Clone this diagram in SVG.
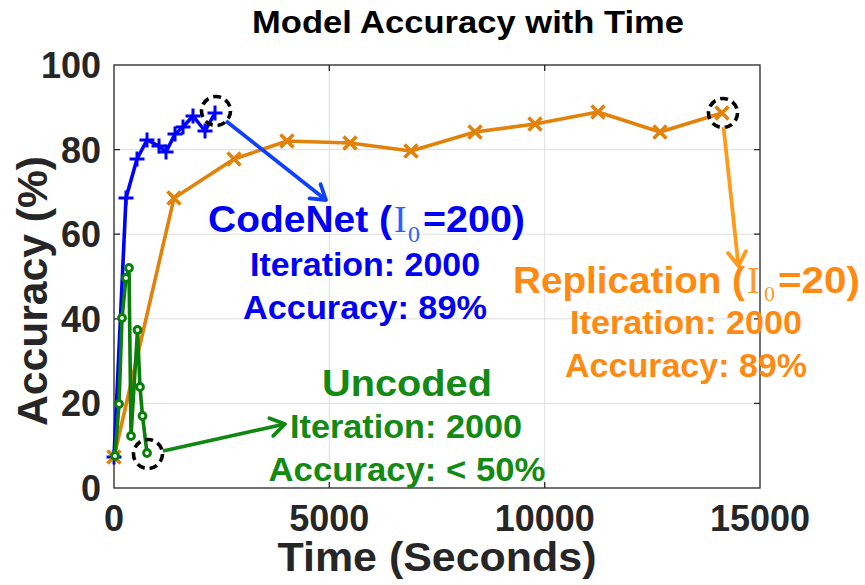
<svg xmlns="http://www.w3.org/2000/svg" xmlns:xlink="http://www.w3.org/1999/xlink" width="865" height="585" viewBox="0 0 865 585">
<style>
.grid{stroke:#dedede;stroke-width:1;fill:none}
.axis{stroke:#262626;stroke-width:1.3;fill:none}
.tick{font-family:"Liberation Sans",Arial,sans-serif;font-weight:bold;font-size:36px;fill:#262626}
.lbl{font-family:"Liberation Sans",Arial,sans-serif;font-weight:bold;fill:#262626}
.title{font-family:"Liberation Sans",Arial,sans-serif;font-weight:bold;font-size:31px;fill:#000}
.ann{font-family:"Liberation Sans",Arial,sans-serif;font-weight:bold}
.ser{font-family:"Liberation Serif","Times New Roman",serif}
.big{font-size:36px}
.mid{font-size:33px}
.blue{fill:#0000f5}
.blue2{fill:#2a62ff}
.org{fill:#ff8a12}
.org2{fill:#ff9a2a}
.grn{fill:#138a13}
.dash{fill:none;stroke:#000;stroke-width:3.6;stroke-dasharray:8 5}
.line{fill:none;stroke-width:3.6;stroke-linejoin:round}
</style>
<defs>
<path id="plus" d="M-7.5,0H7.5M0,-7.5V7.5" stroke="#0000ff" stroke-width="3" fill="none"/>
<path id="cross" d="M-6.5,-6.5L6.5,6.5M-6.5,6.5L6.5,-6.5" stroke="#e2820a" stroke-width="3.6" fill="none"/>
<circle id="ring" r="3.4" fill="#fff" stroke="#0a800a" stroke-width="3"/>
<marker id="ahB" viewBox="-16 -11 18 22" refX="0" refY="0" markerWidth="18" markerHeight="22" markerUnits="userSpaceOnUse" orient="auto"><path d="M-14,-9L0,0L-14,9" fill="none" stroke="#1040ff" stroke-width="3.8" stroke-linecap="round" stroke-linejoin="round"/></marker>
<marker id="ahG" viewBox="-16 -11 18 22" refX="0" refY="0" markerWidth="18" markerHeight="22" markerUnits="userSpaceOnUse" orient="auto"><path d="M-14,-9L0,0L-14,9" fill="none" stroke="#118811" stroke-width="3.8" stroke-linecap="round" stroke-linejoin="round"/></marker>
<marker id="ahO" viewBox="-16 -11 18 22" refX="0" refY="0" markerWidth="18" markerHeight="22" markerUnits="userSpaceOnUse" orient="auto"><path d="M-14,-9L0,0L-14,9" fill="none" stroke="#ff9a1a" stroke-width="3.8" stroke-linecap="round" stroke-linejoin="round"/></marker>
</defs>
<rect width="865" height="585" fill="#fff"/>

<g id="title"><text class="title" x="468" y="33" text-anchor="middle" textLength="432" lengthAdjust="spacingAndGlyphs">Model Accuracy with Time</text></g>

<g id="axes">
<path class="grid" d="M329.3,65V488M544.7,65V488M114,149.6H760M114,234.2H760M114,318.8H760M114,403.4H760"/>
<rect class="axis" x="114" y="65" width="646" height="423"/>
<path class="axis" d="M114,149.6h6M114,234.2h6M114,318.8h6M114,403.4h6M760,149.6h-6M760,234.2h-6M760,318.8h-6M760,403.4h-6M329.3,65v6M544.7,65v6M329.3,488v-6M544.7,488v-6"/>
<g text-anchor="end">
<text class="tick" x="101" y="78">100</text>
<text class="tick" x="101" y="162.6">80</text>
<text class="tick" x="101" y="247.2">60</text>
<text class="tick" x="101" y="331.8">40</text>
<text class="tick" x="101" y="416.4">20</text>
<text class="tick" x="101" y="501">0</text>
</g>
<g text-anchor="middle">
<text class="tick" x="114" y="531">0</text>
<text class="tick" x="329.3" y="531">5000</text>
<text class="tick" x="544.7" y="531">10000</text>
<text class="tick" x="760" y="531">15000</text>
</g>
<text class="lbl" x="437" y="571" font-size="40" text-anchor="middle" textLength="319" lengthAdjust="spacingAndGlyphs">Time (Seconds)</text>
<text class="lbl" transform="translate(47,291) rotate(-90)" font-size="42" text-anchor="middle" textLength="270" lengthAdjust="spacingAndGlyphs">Accuracy (%)</text>
</g>

<g id="codenet">
<polyline class="line" stroke="#0000ff" points="114,457 126,198 137,159 147,140 159,146 166,152 175,134 183,127 193,116 205,131 215,113"/>
<use xlink:href="#plus" x="114" y="457"/><use xlink:href="#plus" x="126" y="198"/><use xlink:href="#plus" x="137" y="159"/><use xlink:href="#plus" x="147" y="140"/><use xlink:href="#plus" x="159" y="146"/><use xlink:href="#plus" x="166" y="152"/><use xlink:href="#plus" x="175" y="134"/><use xlink:href="#plus" x="183" y="127"/><use xlink:href="#plus" x="193" y="116"/><use xlink:href="#plus" x="205" y="131"/><use xlink:href="#plus" x="215" y="113"/>
</g>

<g id="replication">
<polyline class="line" stroke="#e2820a" points="114,457 174,198 234,159 287,141 350,143 411,151 475,132 535,124 598,112 660,132 722,113"/>
<use xlink:href="#cross" x="114" y="457"/><use xlink:href="#cross" x="174" y="198"/><use xlink:href="#cross" x="234" y="159"/><use xlink:href="#cross" x="287" y="141"/><use xlink:href="#cross" x="350" y="143"/><use xlink:href="#cross" x="411" y="151"/><use xlink:href="#cross" x="475" y="132"/><use xlink:href="#cross" x="535" y="124"/><use xlink:href="#cross" x="598" y="112"/><use xlink:href="#cross" x="660" y="132"/><use xlink:href="#cross" x="722" y="113"/>
</g>

<g id="uncoded">
<polyline class="line" stroke="#0a800a" points="115,456 119,404 122,318 126,278 129,268 131,436 137.5,330 140,387 142.5,416 147,453"/>
<use xlink:href="#ring" x="115" y="456"/><use xlink:href="#ring" x="119" y="404"/><use xlink:href="#ring" x="122" y="318"/><use xlink:href="#ring" x="126" y="278"/><use xlink:href="#ring" x="129" y="268"/><use xlink:href="#ring" x="131" y="436"/><use xlink:href="#ring" x="137.5" y="330"/><use xlink:href="#ring" x="140" y="387"/><use xlink:href="#ring" x="142.5" y="416"/><use xlink:href="#ring" x="147" y="453"/>
</g>

<g id="highlights">
<circle class="dash" cx="216" cy="111" r="14.5"/>
<circle class="dash" cx="723" cy="113" r="14.5"/>
<circle class="dash" cx="148" cy="454" r="14.5"/>
</g>

<g id="connectors">
<line x1="226" y1="121" x2="326" y2="200" stroke="#1040ff" stroke-width="3.8" marker-end="url(#ahB)"/>
<line x1="723.5" y1="127" x2="738.5" y2="266" stroke="#ff9a1a" stroke-width="3.8" marker-end="url(#ahO)"/>
<line x1="163" y1="451" x2="285" y2="424" stroke="#118811" stroke-width="3.8" marker-end="url(#ahG)"/>
</g>

<g id="label-codenet">
<text class="ann big blue" x="208" y="232" textLength="184" lengthAdjust="spacingAndGlyphs">CodeNet (</text>
<text class="ser blue2" x="394" y="232" font-size="38">I</text>
<text class="ser blue2" x="408" y="242" font-size="24">0</text>
<text class="ann big blue" x="423" y="232" textLength="102" lengthAdjust="spacingAndGlyphs">=200)</text>
<text class="ann mid blue" x="365" y="276" text-anchor="middle" textLength="230" lengthAdjust="spacingAndGlyphs">Iteration: 2000</text>
<text class="ann mid blue" x="365" y="319" text-anchor="middle" textLength="244" lengthAdjust="spacingAndGlyphs">Accuracy: 89%</text>
</g>

<g id="label-replication">
<text class="ann big org" x="513" y="293" textLength="232" lengthAdjust="spacingAndGlyphs">Replication (</text>
<text class="ser org2" x="747" y="293" font-size="38">I</text>
<text class="ser org2" x="764" y="301" font-size="22">0</text>
<text class="ann big org" x="778" y="293" textLength="82" lengthAdjust="spacingAndGlyphs">=20)</text>
<text class="ann mid org" x="686" y="334" text-anchor="middle" textLength="232" lengthAdjust="spacingAndGlyphs">Iteration: 2000</text>
<text class="ann mid org" x="686" y="377" text-anchor="middle" textLength="242" lengthAdjust="spacingAndGlyphs">Accuracy: 89%</text>
</g>

<g id="label-uncoded">
<text class="ann big grn" x="407" y="396" text-anchor="middle" textLength="170" lengthAdjust="spacingAndGlyphs">Uncoded</text>
<text class="ann mid grn" x="406" y="438" text-anchor="middle" textLength="232" lengthAdjust="spacingAndGlyphs">Iteration: 2000</text>
<text class="ann mid grn" x="407" y="481" text-anchor="middle" textLength="277" lengthAdjust="spacingAndGlyphs">Accuracy: &lt; 50%</text>
</g>
</svg>
